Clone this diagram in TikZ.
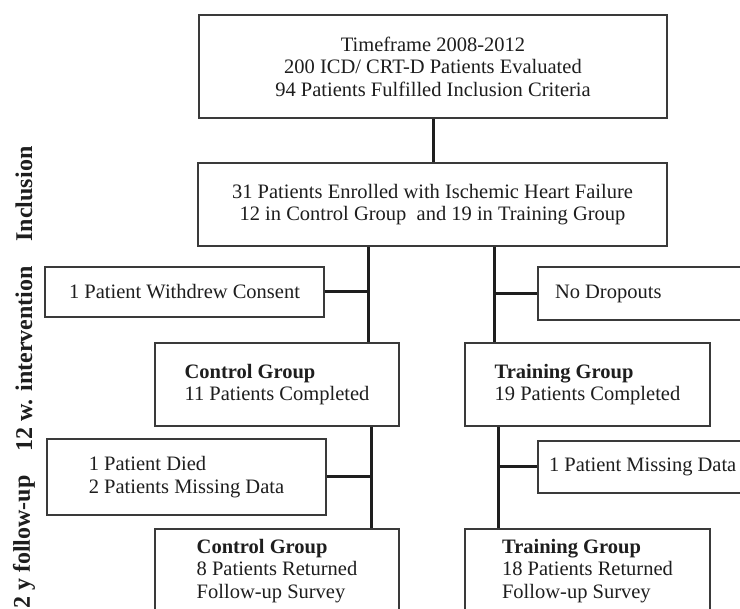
\documentclass[tikz,border=0pt]{standalone}
\usepackage{fontspec}
\setmainfont{Liberation Serif}
\usepackage{tikz}
\usetikzlibrary{shadows}
\definecolor{edge}{HTML}{3A3A3A}
\definecolor{ink}{HTML}{1E1E1E}

\begin{document}
\begin{tikzpicture}[x=1pt,y=-1pt,
  box/.style={draw=edge,line width=1.2pt,fill=white,inner sep=0pt,
    font=\fontsize{20.5}{22.5}\selectfont,text=ink,
    drop shadow={shadow xshift=1.2pt,shadow yshift=-1.2pt,opacity=0.22}},
  link/.style={ink,line width=3pt},
  phase/.style={rotate=90,font=\fontsize{24}{26}\selectfont\bfseries,text=ink}]
\useasboundingbox (0,0) rectangle (740,609);
\clip (0,0) rectangle (740,609);
% boxes
\node[box,minimum width=468pt,minimum height=103pt,align=center] (screen) at (433,66.5)
  {Timeframe 2008-2012\\200 ICD/ CRT-D Patients Evaluated\\94 Patients Fulfilled Inclusion Criteria};
\node[box,minimum width=469pt,minimum height=83pt,align=center] (enrol) at (432.5,204.5)
  {31 Patients Enrolled with Ischemic Heart Failure\\12 in Control Group~ and 19 in Training Group};
\node[box,minimum width=279pt,minimum height=50pt] (withdrew) at (184.5,292)
  {1 Patient Withdrew Consent};
\node[box,minimum width=260pt,minimum height=53pt,text width=226pt,align=flush left] (nodrop) at (668,293.5)
  {No Dropouts};
\node[box,minimum width=244pt,minimum height=83pt,align=left] (ctlA) at (277,384.5)
  {\textbf{Control Group}\\11 Patients Completed};
\node[box,minimum width=245pt,minimum height=83pt,align=left] (trnA) at (587.5,384.5)
  {\textbf{Training Group}\\19 Patients Completed};
\node[box,minimum width=279pt,minimum height=76pt,align=left] (died) at (186.5,477)
  {1 Patient Died\\2 Patients Missing Data};
\node[box,minimum width=220pt,minimum height=52pt,text width=198pt,align=flush left] (missing) at (648,467)
  {1 Patient Missing Data};
\node[box,minimum width=244pt,minimum height=84pt,align=left] (ctlB) at (277,571)
  {\textbf{Control Group}\\8 Patients Returned\\Follow-up Survey};
\node[box,minimum width=245pt,minimum height=84pt,align=left] (trnB) at (587.5,571)
  {\textbf{Training Group}\\18 Patients Returned\\Follow-up Survey};
% branch lines
\coordinate (cA) at (368,0);
\coordinate (cB) at (371,0);
\coordinate (tA) at (494,0);
\coordinate (tB) at (498,0);
\draw[link] (screen.south) -- (screen.south |- enrol.north);
\draw[link] (enrol.south -| cA) -- (ctlA.north -| cA);
\draw[link] (enrol.south -| tA) -- (trnA.north -| tA);
\draw[link] (withdrew.east) -- (withdrew.east -| cA);
\draw[link] (nodrop.west) -- (nodrop.west -| tA);
\draw[link] (ctlA.south -| cB) -- (ctlB.north -| cB);
\draw[link] (trnA.south -| tB) -- (trnB.north -| tB);
\draw[link] (died.east) -- (died.east -| cB);
\draw[link] (missing.west) -- (missing.west -| tB);
% phase labels
\node[phase] (inc) at (24,194) {Inclusion};
\node[phase] (interv) at (24,359) {12 w. intervention};
\node[phase,anchor=east] (follow) at (24,472) {12 y follow-up};
\end{tikzpicture}
\end{document}
